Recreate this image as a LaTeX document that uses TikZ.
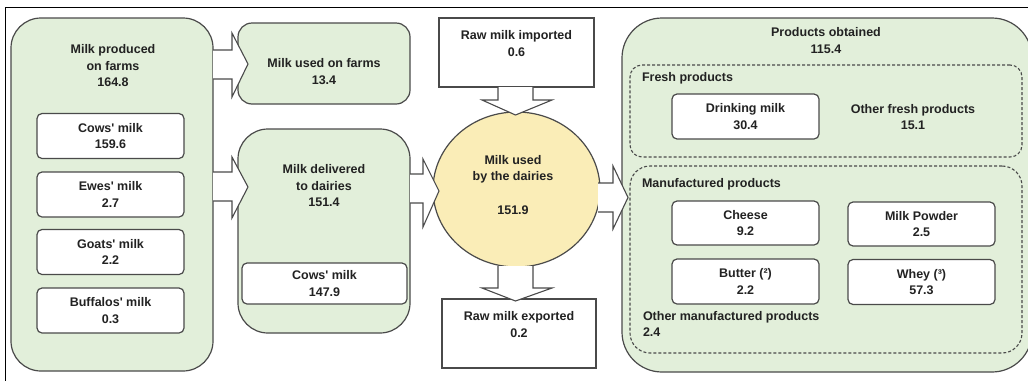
\documentclass[tikz,border=0pt]{standalone}
\usepackage{fontspec}
\setmainfont{Liberation Sans}
\usetikzlibrary{shapes.geometric}
\definecolor{lgreen}{HTML}{E2EFDA}
\definecolor{lyellow}{HTML}{FAEDB7}
\definecolor{edge}{HTML}{4A4A4A}
\definecolor{txt}{HTML}{222222}
\newcommand{\apos}{\textquotesingle}
\begin{document}
\begin{tikzpicture}[x=1pt,y=-1pt,
  every node/.style={font=\bfseries\fontsize{12.5}{16.5}\selectfont, text=txt, inner sep=0pt, outer sep=0pt},
  greenbox/.style={draw=edge, fill=lgreen, line width=1.2pt},
  whitebox/.style={draw=edge, fill=white, line width=1.2pt, rounded corners=5pt, align=center},
  squarebox/.style={draw=edge, fill=white, line width=1.2pt},
  dashbox/.style={draw=edge, line width=1.1pt, dash pattern=on 3pt off 2pt},
  blockarrow/.style={draw=edge, fill=white, line width=1.1pt, line join=miter},
  txtlabel/.style={align=center},
  leftlabel/.style={align=left}]
\useasboundingbox (0,0) rectangle (1028,381);
\clip (0,0) rectangle (1028,381);
\fill[white] (0,0) rectangle (1028,381);
% frame
\draw[black, line width=1pt] (1028,7) -- (5,7) -- (5,381);

% left: milk produced
\node[greenbox, rounded corners=30pt, minimum width=202pt, minimum height=353pt] (prod) at (112,194.5) {};
\node[txtlabel] (prodtitle) at (113,66) {Milk produced\\on farms\\164.8};
\node[whitebox, minimum width=147pt, minimum height=45pt] (cows) at (110.5,136) {Cows\apos{} milk\\159.6};
\node[whitebox, minimum width=147pt, minimum height=45pt] (ewes) at (110.5,194.5) {Ewes\apos{} milk\\2.7};
\node[whitebox, minimum width=147pt, minimum height=45pt] (goats) at (110.5,252) {Goats\apos{} milk\\2.2};
\node[whitebox, minimum width=147pt, minimum height=45pt] (buff) at (110.5,310.5) {Buffalos\apos{} milk\\0.3};

% milk used on farms
\node[greenbox, rounded corners=14pt, minimum width=172pt, minimum height=81pt] (farmuse) at (324,63.5) {};
\node[txtlabel] (farmusetxt) at (324,71.5) {Milk used on farms\\13.4};

% milk delivered
\node[greenbox, rounded corners=30pt, minimum width=172pt, minimum height=204pt] (deliv) at (324,231) {};
\node[txtlabel] (delivtxt) at (324,186) {Milk delivered\\to dairies\\151.4};
\node[whitebox, minimum width=165pt, minimum height=41pt] (delcows) at (324.5,283.5) {Cows\apos{} milk\\147.9};

% centre
\node[squarebox, minimum width=155pt, minimum height=69pt] (imp) at (516.5,52.5) {};
\node[txtlabel] (imptxt) at (516.5,43.5) {Raw milk imported\\0.6};
\node[draw=edge, fill=lyellow, line width=1.2pt, ellipse, minimum width=167pt, minimum height=155pt] (dairy) at (516.5,189.5) {};
\node[txtlabel] (dairytxt) at (513,185) {Milk used\\by the dairies\\[17pt]151.9};
\node[squarebox, minimum width=154pt, minimum height=69pt] (exp) at (519,333.5) {};
\node[txtlabel] (exptxt) at (519,324.5) {Raw milk exported\\0.2};

% products
\node[greenbox, rounded corners=40pt, minimum width=410pt, minimum height=354pt] (prodobt) at (827,195) {};
\node[txtlabel] (prodobttxt) at (826,40.5) {Products obtained\\115.4};
\node[dashbox, rounded corners=12pt, minimum width=392pt, minimum height=92pt] (fresh) at (826,111) {};
\node[anchor=west] (freshlbl) at (642,78) {Fresh products};
\node[whitebox, minimum width=147pt, minimum height=45pt] (drink) at (745.5,116.5) {Drinking milk\\30.4};
\node[txtlabel] (otherfresh) at (913,117) {Other fresh products\\15.1};
\node[dashbox, rounded corners=20pt, minimum width=392pt, minimum height=187pt] (manuf) at (826,259.5) {};
\node[anchor=west] (manuflbl) at (642,184) {Manufactured products};
\node[whitebox, minimum width=147pt, minimum height=44pt] (cheese) at (745.5,223) {Cheese\\9.2};
\node[whitebox, minimum width=147pt, minimum height=44pt] (powder) at (921.5,224) {Milk Powder\\2.5};
\node[whitebox, minimum width=147pt, minimum height=45pt] (butter) at (745.5,281.5) {Butter (²)\\2.2};
\node[whitebox, minimum width=147pt, minimum height=45pt] (whey) at (921.5,282) {Whey (³)\\57.3};
\node[leftlabel, anchor=west] (othermanuf) at (643,324) {Other manufactured products\\2.4};

% block arrows
% prod -> farmuse
\draw[blockarrow] (213,50) -- (232,50) -- (232,33) -- (248,64) -- (232,97) -- (232,79) -- (213,79);
% prod -> deliv
\draw[blockarrow] (213,172) -- (232,172) -- (232,157) -- (248,187) -- (232,218) -- (232,201) -- (213,201);
% deliv -> dairy
\draw[blockarrow] (410,174) -- (423,174) -- (423,159) -- (439,191) -- (423,227) -- (423,203) -- (410,203);
% dairy -> products
\draw[blockarrow] (598,183) -- (613,183) -- (613,166) -- (628,197.5) -- (613,229) -- (613,212) -- (598,212);
% imported -> dairy
\draw[blockarrow] (498,87) -- (498,100) -- (482,100) -- (515.5,115) -- (552,100) -- (533,100) -- (533,87);
% dairy -> exported
\draw[blockarrow] (498,266) -- (498,288) -- (482,288) -- (515.5,301) -- (552,288) -- (533,288) -- (533,266);
\end{tikzpicture}
\end{document}
